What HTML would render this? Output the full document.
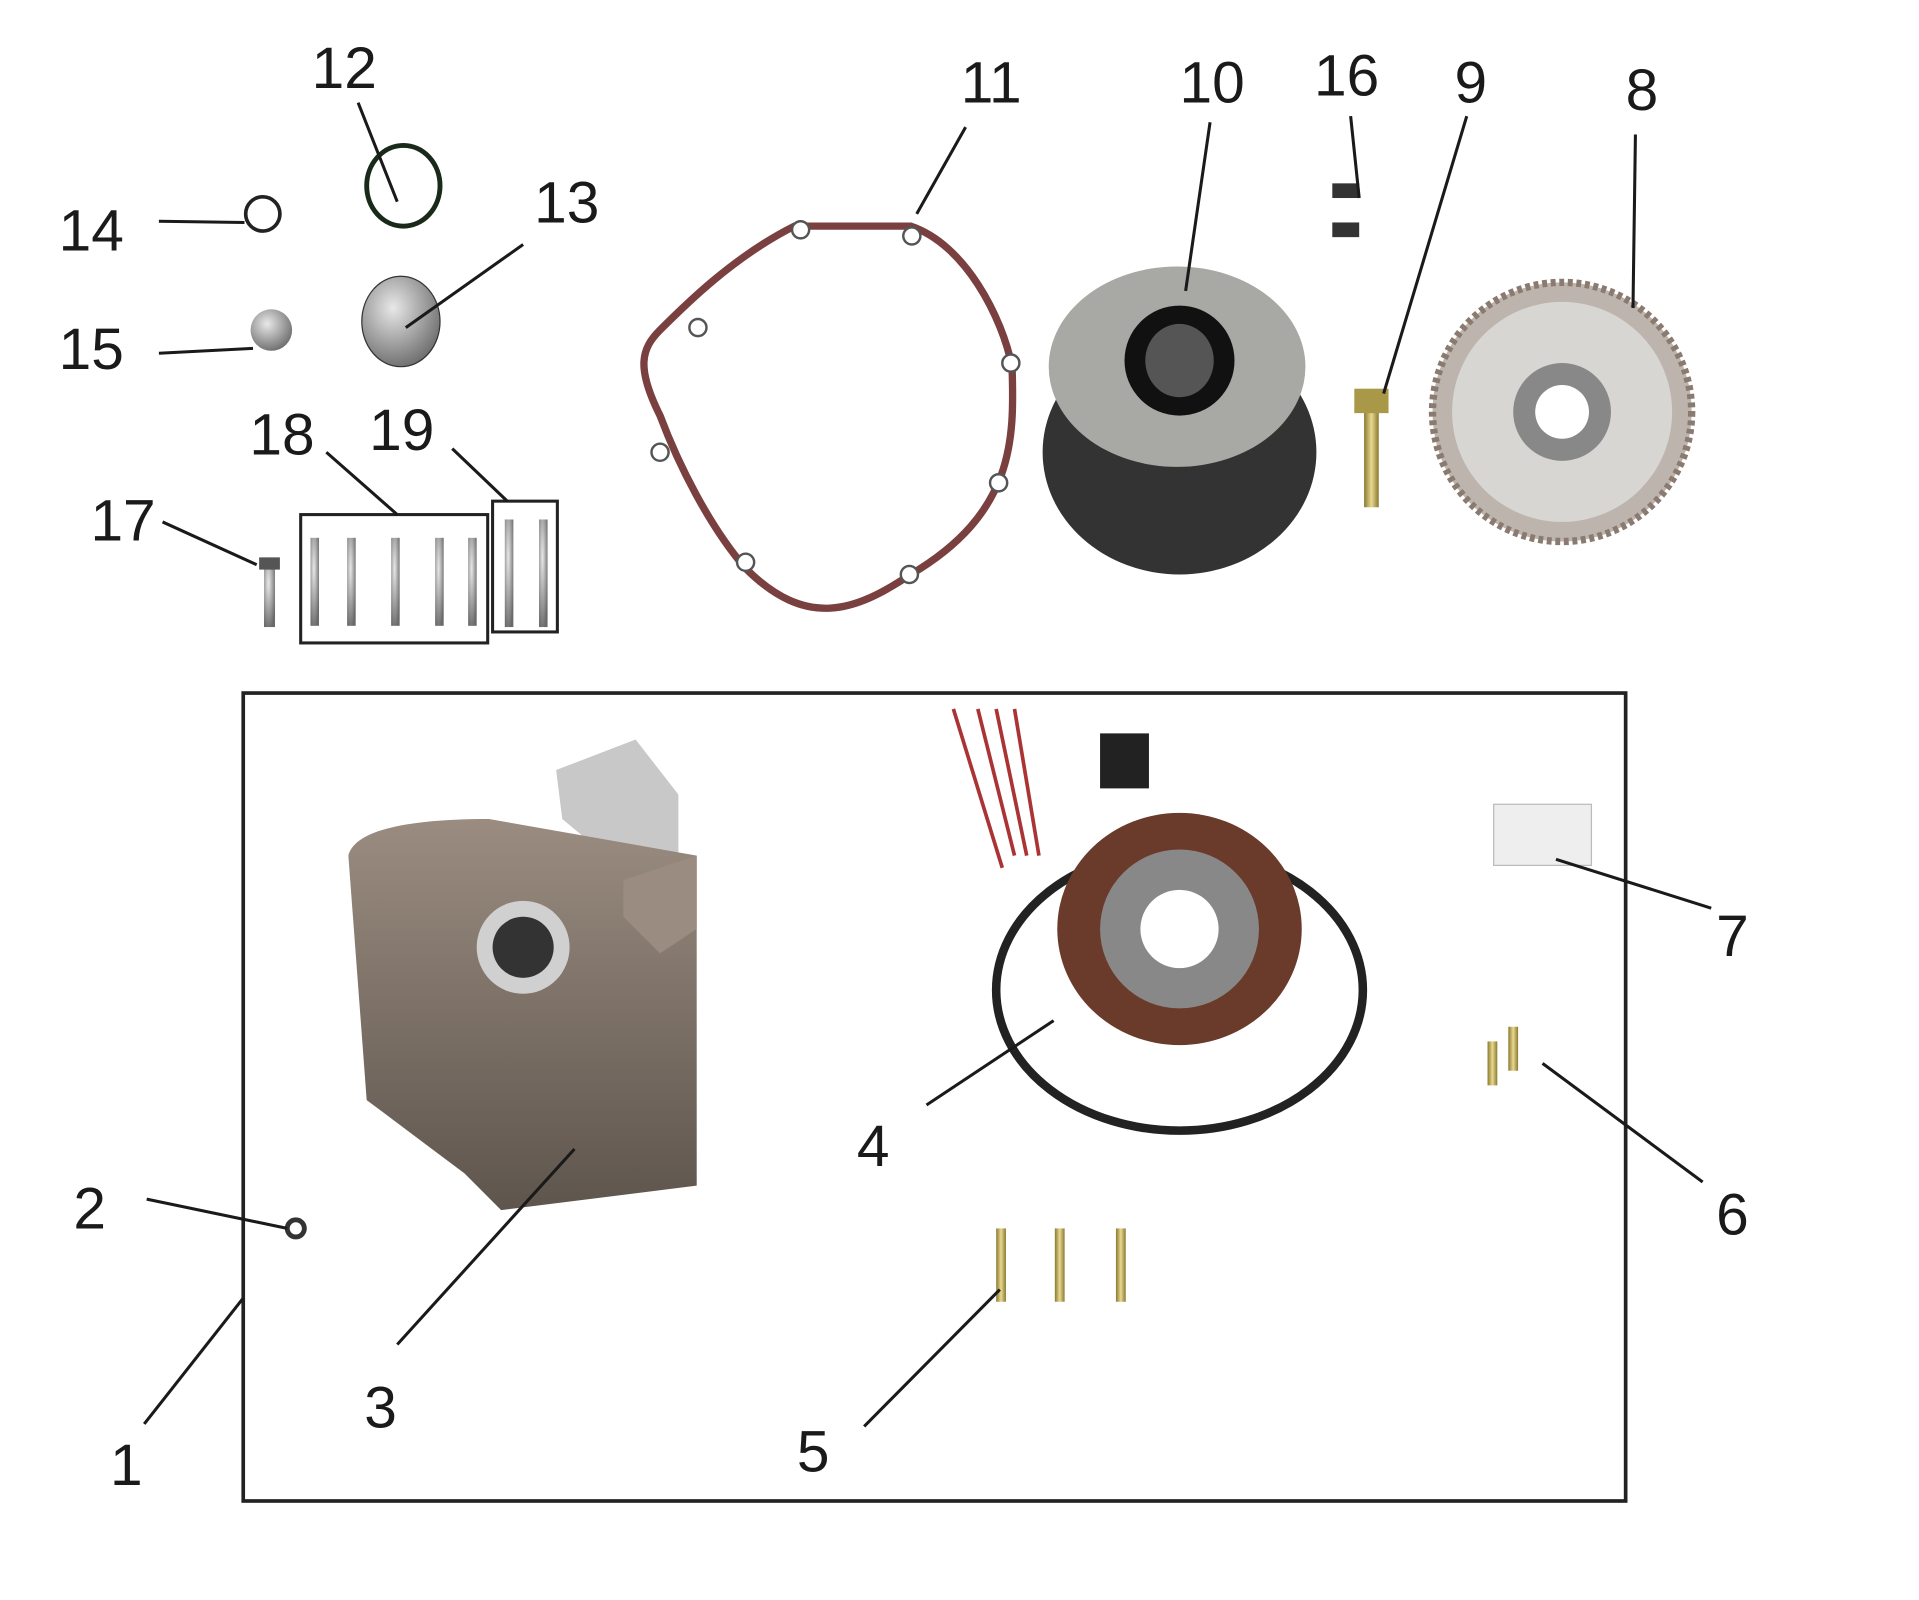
<!DOCTYPE html>
<html><head><meta charset="utf-8"><style>
html,body{margin:0;padding:0;background:#fff;width:1919px;height:1600px;overflow:hidden}
text{font-family:"Liberation Sans Narrow","Liberation Sans",Arial,sans-serif;font-size:48px;fill:#1a1a1a}
</style></head><body>
<svg width="1919" height="1600" viewBox="0 0 1570 1309" xmlns="http://www.w3.org/2000/svg">
<defs>
<radialGradient id="met" cx="40%" cy="35%" r="70%"><stop offset="0" stop-color="#e8e8e8"/><stop offset="1" stop-color="#6a6a6a"/></radialGradient>
<linearGradient id="brass" x1="0" x2="1"><stop offset="0" stop-color="#8a7a30"/><stop offset=".5" stop-color="#e8d890"/><stop offset="1" stop-color="#8a7a30"/></linearGradient>
<linearGradient id="cover" x1="0" y1="0" x2="0" y2="1"><stop offset="0" stop-color="#9a8c80"/><stop offset="1" stop-color="#5e554d"/></linearGradient>
</defs>
<rect x="199" y="567" width="1131" height="661" fill="none" stroke="#222" stroke-width="3"/>
<ellipse cx="215" cy="175" rx="14" ry="14" fill="none" stroke="#222" stroke-width="3"/>
<ellipse cx="330" cy="152" rx="30" ry="33" fill="none" stroke="#1a2a1a" stroke-width="4"/>
<circle cx="222" cy="270" r="17" fill="url(#met)"/>
<ellipse cx="328" cy="263" rx="32" ry="37" fill="url(#met)" stroke="#333"/>
<rect x="216" y="458" width="9" height="55" fill="url(#met)"/><rect x="212" y="456" width="17" height="10" fill="#555"/>
<g fill="url(#met)">
<rect x="254" y="440" width="7" height="72"/><rect x="284" y="440" width="7" height="72"/><rect x="320" y="440" width="7" height="72"/><rect x="356" y="440" width="7" height="72"/><rect x="383" y="440" width="7" height="72"/><rect x="413" y="425" width="7" height="88"/><rect x="441" y="425" width="7" height="88"/></g>
<rect x="246" y="421" width="153" height="105" fill="none" stroke="#222" stroke-width="2.5"/>
<rect x="403" y="410" width="53" height="107" fill="none" stroke="#222" stroke-width="2.5"/>
<path d="M540,270 C560,250 600,210 650,185 L745,185 C790,200 820,260 828,300 C830,360 830,420 745,470 C700,500 660,515 610,465 C580,430 555,380 540,340 C520,300 525,285 540,270Z" fill="none" stroke="#7a4040" stroke-width="6"/>
<g fill="#fff" stroke="#555" stroke-width="2"><circle cx="655" cy="188" r="7"/><circle cx="746" cy="193" r="7"/><circle cx="571" cy="268" r="7"/><circle cx="827" cy="297" r="7"/><circle cx="540" cy="370" r="7"/><circle cx="817" cy="395" r="7"/><circle cx="610" cy="460" r="7"/><circle cx="744" cy="470" r="7"/></g>
<ellipse cx="965" cy="370" rx="112" ry="100" fill="#333"/>
<ellipse cx="963" cy="300" rx="105" ry="82" fill="#a8a8a4"/>
<ellipse cx="965" cy="295" rx="45" ry="45" fill="#111"/><ellipse cx="965" cy="295" rx="28" ry="30" fill="#555"/>
<rect x="1090" y="150" width="22" height="12" fill="#333"/><rect x="1090" y="182" width="22" height="12" fill="#333"/>
<rect x="1116" y="335" width="12" height="80" fill="url(#brass)"/><rect x="1108" y="318" width="28" height="20" fill="#a89848"/>
<circle cx="1278" cy="337" r="106" fill="#bdb5ad" stroke="#8a7a70" stroke-width="6" stroke-dasharray="4 3"/>
<circle cx="1278" cy="337" r="90" fill="#d8d6d2"/>
<circle cx="1278" cy="337" r="40" fill="#888"/><circle cx="1278" cy="337" r="22" fill="#fff"/>
<path d="M455,630 L520,605 L555,650 L555,710 L520,720 L460,670 Z" fill="#c8c8c8"/>
<path d="M285,700 C290,680 330,670 400,670 L570,700 L570,970 L410,990 L380,960 L300,900 Z" fill="url(#cover)"/>
<path d="M510,720 L570,700 L570,760 L540,780 L510,750Z" fill="#9a8c80"/>
<circle cx="428" cy="775" r="38" fill="#d0d0d0"/><circle cx="428" cy="775" r="25" fill="#333"/>
<circle cx="242" cy="1005" r="7" fill="none" stroke="#333" stroke-width="4"/>
<ellipse cx="965" cy="810" rx="150" ry="115" fill="none" stroke="#222" stroke-width="7"/>
<ellipse cx="965" cy="760" rx="100" ry="95" fill="#6a3a2a"/>
<ellipse cx="965" cy="760" rx="65" ry="65" fill="#888"/><circle cx="965" cy="760" r="32" fill="#fff"/>
<path d="M780,580 L820,710 M800,580 L830,700 M815,580 L840,700 M830,580 L850,700" stroke="#a33" stroke-width="3"/>
<rect x="900" y="600" width="40" height="45" fill="#222"/>
<rect x="1222" y="658" width="80" height="50" fill="#eee" stroke="#bbb"/>
<g fill="url(#brass)"><rect x="1217" y="852" width="8" height="36"/><rect x="1234" y="840" width="8" height="36"/><rect x="815" y="1005" width="8" height="60"/><rect x="863" y="1005" width="8" height="60"/><rect x="913" y="1005" width="8" height="60"/></g>
<g stroke="#1a1a1a" stroke-width="2.5" fill="none">
<line x1="130" y1="181" x2="200" y2="182"/>
<line x1="130" y1="289" x2="207" y2="285"/>
<line x1="293" y1="84" x2="325" y2="165"/>
<line x1="428" y1="200" x2="332" y2="268"/>
<line x1="133" y1="427" x2="210" y2="462"/>
<line x1="267" y1="370" x2="325" y2="421"/>
<line x1="370" y1="367" x2="415" y2="410"/>
<line x1="790" y1="104" x2="750" y2="175"/>
<line x1="990" y1="100" x2="970" y2="238"/>
<line x1="1105" y1="95" x2="1112" y2="162"/>
<line x1="1200" y1="95" x2="1132" y2="322"/>
<line x1="1338" y1="110" x2="1336" y2="252"/>
<line x1="1273" y1="703" x2="1400" y2="743"/>
<line x1="1262" y1="870" x2="1393" y2="967"/>
<line x1="758" y1="904" x2="862" y2="835"/>
<line x1="707" y1="1167" x2="818" y2="1055"/>
<line x1="325" y1="1100" x2="470" y2="940"/>
<line x1="120" y1="981" x2="235" y2="1005"/>
<line x1="118" y1="1165" x2="199" y2="1062"/>
</g>
<text x="255" y="72">12</text>
<text x="48" y="205">14</text>
<text x="437" y="182">13</text>
<text x="48" y="302">15</text>
<text x="204" y="372">18</text>
<text x="302" y="368">19</text>
<text x="74" y="442">17</text>
<text x="786" y="84">11</text>
<text x="965" y="84">10</text>
<text x="1075" y="78">16</text>
<text x="1190" y="84">9</text>
<text x="1330" y="90">8</text>
<text x="1404" y="782">7</text>
<text x="1404" y="1010">6</text>
<text x="701" y="954">4</text>
<text x="652" y="1204">5</text>
<text x="298" y="1168">3</text>
<text x="60" y="1005">2</text>
<text x="90" y="1215">1</text>
</svg>
</body></html>
